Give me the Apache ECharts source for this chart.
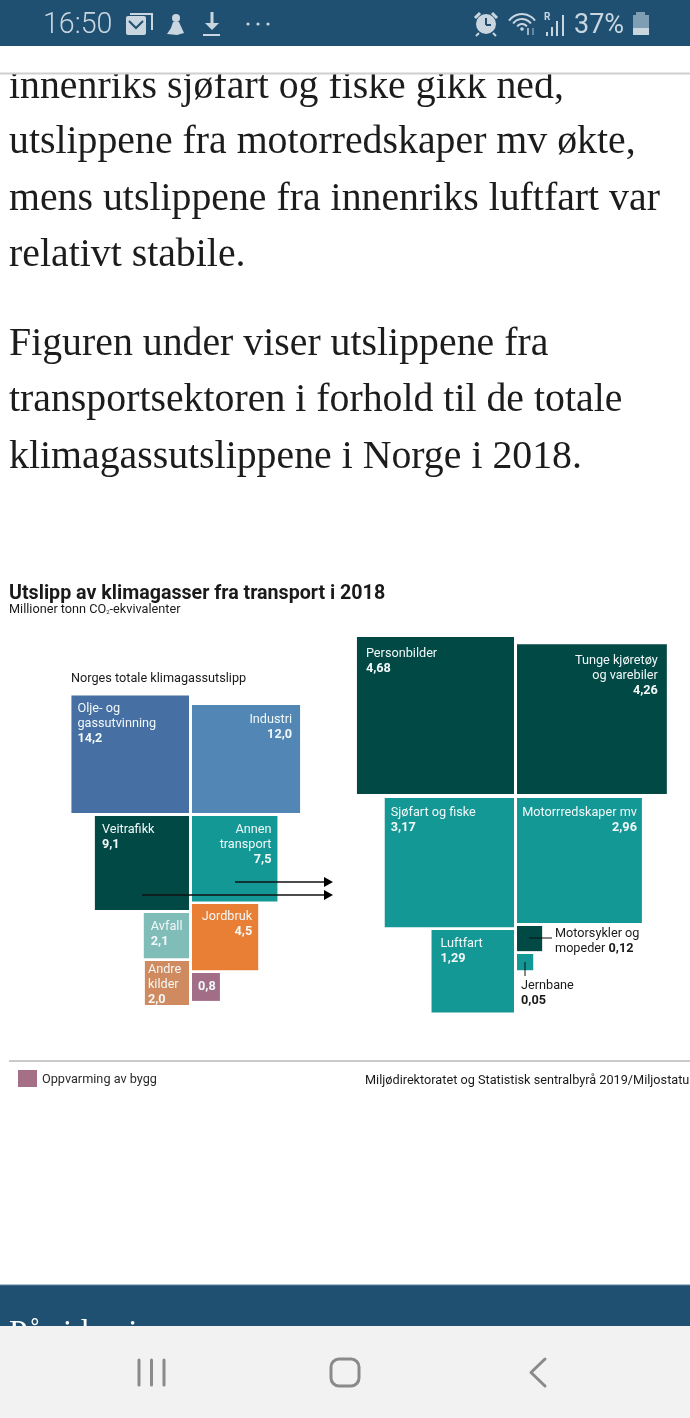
<!DOCTYPE html>
<html><head><meta charset="utf-8">
<style>html,body{margin:0;padding:0;background:#fff}#c{width:690px;height:1418px}</style>
<script src="https://cdn.jsdelivr.net/npm/echarts@6/dist/echarts.min.js"></script>
</head><body><div id="c"></div>
<script>
// ---- data ----
const totalNames = ['Olje- og\ngassutvinning','Industri','Veitrafikk','Annen\ntransport','Avfall','Jordbruk','Andre\nkilder',''];
const totalValues = [14.2,12.0,9.1,7.5,2.1,4.5,2.0,0.8];
const totalColors = ['#466fa3','#5287b5','#004945','#139896','#80bdb9','#e97f34','#cf8a5f','#a26e87'];
const transportNames = ['Personbilder','Tunge kjøretøy\nog varebiler','Sjøfart og fiske','Motorrredskaper mv','Luftfart','Motorsykler og\nmopeder','Jernbane'];
const transportValues = [4.68,4.26,3.17,2.96,1.29,0.12,0.05];
const transportColors = ['#004945','#004945','#139896','#139896','#139896','#004945','#139896'];
const bodyLines = ['innenriks sjøfart og fiske gikk ned,','utslippene fra motorredskaper mv økte,','mens utslippene fra innenriks luftfart var','relativt stabile.','Figuren under viser utslippene fra','transportsektoren i forhold til de totale','klimagassutslippene i Norge i 2018.'];
// ---- layout (kept apart from the data): anchor corner, corner kind, label side, label offsets ----
const totalLayout = [
 {x:189,y:813,c:'br',a:'l',px:6,py:12},{x:192,y:813,c:'bl',a:'r',px:8,py:13},
 {x:189,y:816,c:'tr',a:'l',px:7,py:12},{x:192,y:816,c:'tl',a:'r',px:6,py:12},
 {x:189,y:913,c:'tr',a:'l',px:7,py:12},{x:192,y:904,c:'tl',a:'r',px:6,py:11},
 {x:189,y:961,c:'tr',a:'l',px:3,py:7},{x:192,y:973,c:'tl',a:'l',px:6,py:12}];
const transportLayout = [
 {x:514,y:794,c:'br',a:'l',px:9,py:15},{x:517,y:794,c:'bl',a:'r',px:9,py:15},
 {x:514,y:798,c:'tr',a:'l',px:6,py:13},{x:517,y:798,c:'tl',a:'r',px:5,py:13},
 {x:514,y:930,c:'tr',a:'l',px:9,py:12},
 {x:517,y:926,c:'tl',a:'l',px:38,py:6,out:true,inline:true},
 {x:517,y:954,c:'tl',a:'l',px:4,py:30,out:true}];
const LEFT_K = 31.2, RIGHT_K = 72.6;   // pixels per sqrt(value)

const fmt = v => { const s = String(v); return (s.includes('.')? s : s + '.0').replace('.',','); };
function buildData(names, values, layout, colors){
  return values.map((v,i)=>({value:[layout[i].x,layout[i].y,v,i],name:names[i],lay:layout[i],col:colors[i]}));
}
function renderer(data,k){
  return function(params,api){
    const d = data[params.dataIndex], l = d.lay;
    const p = api.coord([api.value(0),api.value(1)]);
    const v = api.value(2);
    const s = api.size([Math.sqrt(v)*k,Math.sqrt(v)*k]);
    const x = l.c[1]==='r' ? p[0]-s[0] : p[0];
    const y = l.c[0]==='b' ? p[1]-s[1] : p[1];
    const parts = d.name ? d.name.split('\n').map(t=>'{n|'+t+'}') : [];
    let txt;
    if(l.inline){ parts[parts.length-1]+= '{n| }{b|'+fmt(v)+'}'; txt=parts.join('\n'); }
    else { parts.push('{b|'+fmt(v)+'}'); txt=parts.join('\n'); }
    const fill = l.out ? '#1a1a1a' : '#f2f8f8';
    const tx = l.a==='l' ? x+l.px : x+s[0]-l.px;
    return {type:'group',children:[
      {type:'rect',shape:{x:x,y:y,width:s[0],height:s[1]},style:{fill:d.col}},
      {type:'text',x:tx,y:y+l.py-6,style:{text:txt,align:l.a==='l'?'left':'right',verticalAlign:'top',fill:fill,
        rich:{n:{font:'400 12.7px Roboto',lineHeight:15,fill:fill},b:{font:'700 12.7px Roboto',lineHeight:15,fill:fill}}}}
    ]};
  };
}
const totalData = buildData(totalNames,totalValues,totalLayout,totalColors);
const transportData = buildData(transportNames,transportValues,transportLayout,transportColors);

// ---- page furniture ----
const SB='#c9d6e0', BLUE='#1f5072';
const T=(x,y,text,font,fill,extra)=>({type:'text',x:x,y:y,z:(extra&&extra.z)||5,style:Object.assign({text:text,font:font,fill:fill,verticalAlign:'middle'},extra&&extra.s)});
const L=(x1,y1,x2,y2,c,w,z)=>({type:'line',z:z||5,shape:{x1,y1,x2,y2},style:{stroke:c,lineWidth:w}});
const R=(x,y,w,h,c,z,r)=>({type:'rect',z:z||5,shape:{x:x,y:y,width:w,height:h,r:r||0},style:{fill:c}});
const P=(pts,c,z)=>({type:'polygon',z:z||5,shape:{points:pts},style:{fill:c}});
const BODYY=[88,143,200,256,345,401,458];
const BF='39.8px "Liberation Serif"';
const g=[];
bodyLines.forEach((t,i)=>g.push(T(9,BODYY[i],t,BF,'#1c1c1c')));
g.push(R(0,46,690,27,'#fff',8),L(0,73.5,690,73.5,'#cfcfcf',2,9));
g.push(R(0,0,690,46,BLUE,20));
g.push(T(43,26,'16:50','300 28.6px Roboto',SB,{z:21}));
// mail
g.push({type:'rect',z:21,shape:{x:126,y:16,width:20,height:19,r:2},style:{fill:SB}},
 {type:'polyline',z:22,shape:{points:[[129,21],[136,28],[143,21]]},style:{stroke:BLUE,lineWidth:2,fill:null}},
 {type:'polyline',z:21,shape:{points:[[130,14],[152,14],[152,30]]},style:{stroke:SB,lineWidth:2,fill:null}});
// figure
g.push({type:'circle',z:21,shape:{cx:176,cy:18,r:4},style:{fill:SB}},P([[173,22],[179,22],[184,33],[177,35],[167,34],[171,28]],SB,21));
// download
g.push(L(212,12,212,27,SB,3,21),P([[205,23],[219,23],[212,30]],SB,21),L(203,35,220,35,SB,2,21));
// dots
[248,258,268].forEach(x=>g.push({type:'circle',z:21,shape:{cx:x,cy:24,r:1.6},style:{fill:SB}}));
// alarm
g.push({type:'circle',z:21,shape:{cx:486,cy:24,r:10},style:{fill:SB}},L(486,18,486,25,BLUE,2,22),L(486,25,491,25,BLUE,2,22),
 L(475,18,480,13,SB,3,21),L(492,13,497,18,SB,3,21),L(479,33,476,36,SB,2,21),L(493,33,496,36,SB,2,21));
// wifi
[16,11,6].forEach(r=>g.push({type:'arc',z:21,shape:{cx:522,cy:30,r:r,startAngle:-Math.PI*0.8,endAngle:-Math.PI*0.2},style:{stroke:SB,lineWidth:2,fill:null}}));
g.push({type:'circle',z:21,shape:{cx:522,cy:29,r:1.8},style:{fill:SB}},L(528,28,528,35,SB,1.5,21),L(533,28,533,35,'#7f9db3',1.5,21));
// signal
g.push(T(544,17,'R','700 10px Roboto',SB,{z:21}));
[[547,31,3],[552,26,8],[557,20,14],[563,14,20]].forEach(a=>g.push(R(a[0]-1,a[1]+1,2,a[2]+1,SB,21)));
g.push(T(574,26,'37%','400 27px Roboto',SB,{z:21}));
// battery
g.push(R(636,12,9,4,'#7f9db3',21),R(633,15,16,13,'#7f9db3',21),R(633,28,16,7,SB,21));

// chart text
g.push(T(9,594,'Utslipp av klimagasser fra transport i 2018','700 19.65px Roboto','#1a1a1a'));
g.push({type:'text',x:9,y:610,z:5,style:{text:'{a|Millioner tonn CO}{s|2}{a|-ekvivalenter}',verticalAlign:'middle',rich:{a:{font:'12.7px Roboto',fill:'#1a1a1a'},s:{font:'6px Roboto',fill:'#1a1a1a',padding:[5,0,0,0]}}}});
g.push(T(71,679,'Norges totale klimagassutslipp','12.7px Roboto','#1a1a1a'));
// arrows
[[235,882],[142,895]].forEach(a=>{ g.push(L(a[0],a[1],326,a[1],'#111',1.3,12),P([[324,a[1]-5],[333,a[1]],[324,a[1]+5]],'#000',12)); });
// leaders
g.push(L(529,938,552,938,'#111',1,12),L(525,962,525,976,'#111',1,12));
// footer
g.push(L(9,1061,690,1061,'#b8b8b8',1.5));
g.push(R(18,1070,19,17,'#a56f85'));
g.push(T(42,1080,'Oppvarming av bygg','12.7px Roboto','#2a2a2a'));
g.push(T(365,1081,'Miljødirektoratet og Statistisk sentralbyrå 2019/Miljostatus','12.7px Roboto','#1a1a1a'));
// bottom
g.push(R(0,1285,690,42,BLUE,5),L(0,1285,690,1285,'#5a7f98',1,6));
g.push(T(9,1334,'På siden i','33px "Liberation Serif"','#fff',{z:6}));
g.push(R(0,1326,690,92,'#f2f2f2',20));
[139,151.5,164].forEach(x=>g.push({type:'line',z:21,shape:{x1:x,y1:1360,x2:x,y2:1385},style:{stroke:'#8a8a8a',lineWidth:3,lineCap:'round'}}));
g.push({type:'rect',z:21,shape:{x:331,y:1359,width:28,height:27,r:8},style:{fill:null,stroke:'#8a8a8a',lineWidth:3}});
g.push({type:'polyline',z:21,shape:{points:[[545,1359],[531,1372.5],[545,1386]]},style:{fill:null,stroke:'#8a8a8a',lineWidth:3,lineCap:'round',lineJoin:'round'}});

const chart = echarts.init(document.getElementById('c'),null,{renderer:'canvas',width:690,height:1418});
const enc={x:0,y:1};
chart.setOption({
  animation:false,
  backgroundColor:'#fff',
  grid:{left:0,top:0,width:690,height:1418},
  xAxis:{type:'value',min:0,max:690,show:false},
  yAxis:{type:'value',min:0,max:1418,inverse:true,show:false},
  tooltip:{show:false},
  series:[
   {type:'custom',name:'Norges totale klimagassutslipp',coordinateSystem:'cartesian2d',clip:false,encode:enc,z:3,data:totalData.map(d=>({name:d.name,value:d.value})),renderItem:renderer(totalData,LEFT_K)},
   {type:'custom',name:'Transport',coordinateSystem:'cartesian2d',clip:false,encode:enc,z:3,data:transportData.map(d=>({name:d.name,value:d.value})),renderItem:renderer(transportData,RIGHT_K)}
  ],
  graphic:{elements:g}
});
</script></body></html>
